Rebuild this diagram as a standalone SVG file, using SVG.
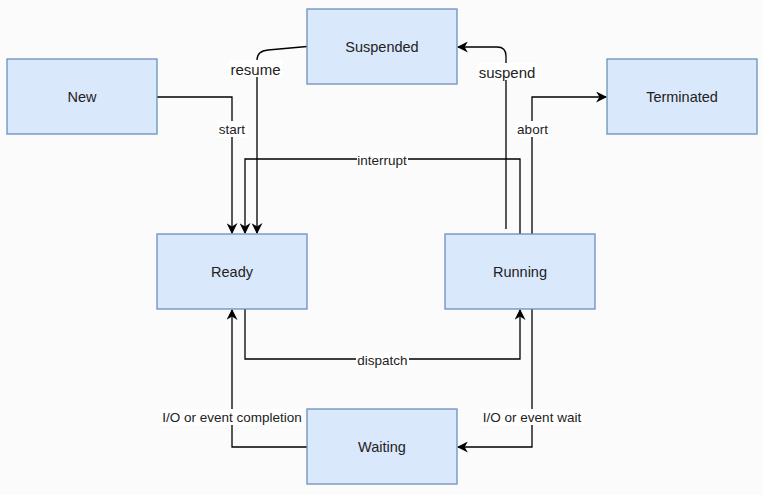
<svg xmlns="http://www.w3.org/2000/svg" width="763" height="495" viewBox="0 0 763 495">
<style>
.node rect{fill:#dae8fc;stroke:#6c8ebf;stroke-width:1.3}
.node text{font-family:"Liberation Sans",Arial,sans-serif;font-size:14.5px;fill:#222;text-anchor:middle;dominant-baseline:central}
.edge path{fill:none;stroke:#000;stroke-width:1.3}
.lbl rect{fill:#fff}
.lbl text{font-family:"Liberation Sans",Arial,sans-serif;font-size:13.5px;fill:#222;text-anchor:middle;dominant-baseline:central}
.lbl text.big{font-size:15px}
</style>
<defs>
<marker id="arr" viewBox="0 0 10 10" refX="9" refY="5" markerWidth="11" markerHeight="11" markerUnits="userSpaceOnUse" orient="auto">
<path d="M0,0 L10,5 L0,10 L3,5 Z" fill="#000"/>
</marker>
</defs>
<rect width="763" height="495" fill="#fbfbfb"/>
<g id="connectors" class="edge">
<path d="M157,97 H232 V233" marker-end="url(#arr)"/>
<path d="M307,46.5 L268,50 Q257,51 257,60 V233" marker-end="url(#arr)"/>
<path d="M520,234 V159 H245 V233" marker-end="url(#arr)"/>
<path d="M506,229 V56 Q506,47 497,47 H458" marker-end="url(#arr)"/>
<path d="M532,234 V97 H606" marker-end="url(#arr)"/>
<path d="M245,309 V359 H520 V310" marker-end="url(#arr)"/>
<path d="M307,447 H232 V310" marker-end="url(#arr)"/>
<path d="M532,309 V447 H458" marker-end="url(#arr)"/>
</g>
<g id="labels" class="lbl">
<rect x="217" y="121" width="31" height="16"/><text x="232" y="129">start</text>
<rect x="229" y="60" width="53" height="17"/><text class="big" x="255.5" y="69">resume</text>
<rect x="357" y="152" width="51" height="16"/><text x="382" y="160">interrupt</text>
<rect x="477" y="63" width="60" height="17"/><text class="big" x="507" y="72">suspend</text>
<rect x="516" y="121" width="33" height="16"/><text x="532.5" y="129">abort</text>
<rect x="356" y="352" width="53" height="16"/><text x="382.5" y="360">dispatch</text>
<rect x="160" y="409" width="144" height="16"/><text x="232" y="417">I/O or event completion</text>
<rect x="481" y="409" width="102" height="16"/><text x="532" y="417">I/O or event wait</text>
</g>
<g id="new" class="node"><rect x="7" y="59" width="150" height="75"/><text x="82" y="97">New</text></g>
<g id="suspended" class="node"><rect x="307" y="9" width="150" height="75"/><text x="382" y="47">Suspended</text></g>
<g id="terminated" class="node"><rect x="607" y="59" width="150" height="75"/><text x="682" y="97">Terminated</text></g>
<g id="ready" class="node"><rect x="157" y="234" width="150" height="75"/><text x="232" y="272">Ready</text></g>
<g id="running" class="node"><rect x="445" y="234" width="150" height="75"/><text x="520" y="272">Running</text></g>
<g id="waiting" class="node"><rect x="307" y="409" width="150" height="75"/><text x="382" y="447">Waiting</text></g>
</svg>
